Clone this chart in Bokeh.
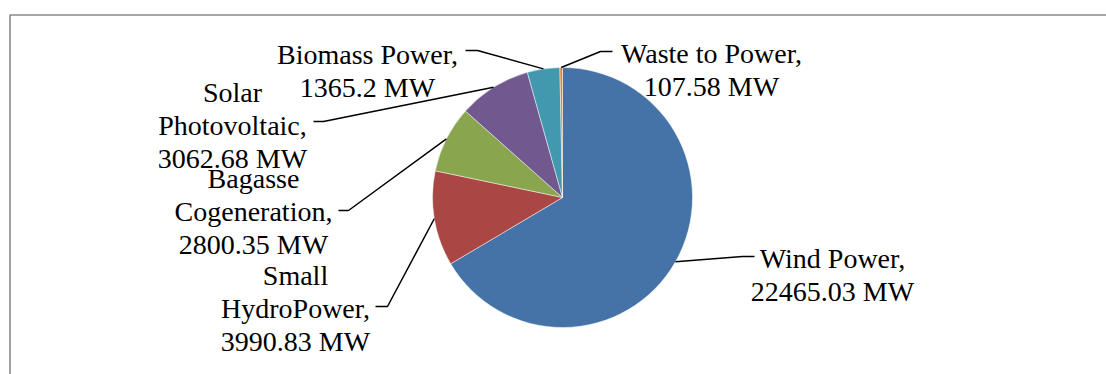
import math
from bokeh.plotting import figure
from bokeh.models import Range1d, ColumnDataSource
from bokeh.core.properties import value
from bokeh.embed import file_html
from bokeh.resources import INLINE

# ---- data ----
categories = ["Wind Power", "Small HydroPower", "Bagasse Cogeneration",
              "Solar Photovoltaic", "Biomass Power", "Waste to Power"]
capacity_mw = [22465.03, 3990.83, 2800.35, 3062.68, 1365.2, 107.58]
colors = ["#4572A7", "#AA4643", "#89A54E", "#71588F", "#4198AF", "#DB843D"]

# ---- layout (pixels from top-left) ----
W, H = 1106, 374
CX, CY, R = 562, 197, 130
FS = 28
LINE_H = 33
label_layout = [
    (832, 258, False),
    (295, 275, True),
    (253, 178, True),
    (232, 92, True),
    (367, 54, False),
    (711, 53, False),
]
leader_layout = [
    [(742, 256), (754, 256)],
    [(387, 306), (375, 306)],
    [(348, 210), (338, 210)],
    [(323, 121), (313, 121)],
    [(477, 50), (465, 50)],
    [(600, 51), (612, 51)],
]


def Y(ypx):
    return H - ypx


p = figure(width=W, height=H, x_range=Range1d(0, W), y_range=Range1d(0, H),
           min_border=0, toolbar_location=None, output_backend="svg",
           x_axis_type=None, y_axis_type=None)
p.outline_line_color = None

# labels (drawn first)
tx, ty, tt = [], [], []
for name, v, (lx, ly, split) in zip(categories, capacity_mw, label_layout):
    if split:
        first, rest = name.split(" ", 1)
        lines = [first, rest + ","]
    else:
        lines = [name + ","]
    lines.append(f"{v} MW")
    for i, s in enumerate(lines):
        tx.append(lx)
        ty.append(Y(ly + i * LINE_H))
        tt.append(s)
p.text(x=tx, y=ty, text=tt, text_font=value("Times New Roman"), text_font_size="28px",
       text_align="center", text_baseline="alphabetic", text_color="black")

# chart frame (left and top edges), kept inside the ranges
p.line([9.5, 9.5, W], [0, Y(14.5), Y(14.5)], line_color="#8a8a8a", line_width=1.6)

total = sum(capacity_mw)
cum = 0.0
starts, ends, mids = [], [], []
for v in capacity_mw:
    f0 = cum / total
    cum += v
    f1 = cum / total
    starts.append(math.pi / 2 - 2 * math.pi * f1)
    ends.append(math.pi / 2 - 2 * math.pi * f0)
    mids.append((f0 + f1) / 2)

src = ColumnDataSource(dict(x=[CX] * len(capacity_mw), y=[Y(CY)] * len(capacity_mw),
                            start=starts, end=ends, color=colors))
p.wedge(x="x", y="y", radius=R, start_angle="start", end_angle="end",
        direction="anticlock", fill_color="color", line_color="white",
        line_width=0.6, line_alpha=0.8, source=src)

# leader lines
lx_all, ly_all = [], []
for m, pts in zip(mids, leader_layout):
    a = 2 * math.pi * m
    px = CX + R * math.sin(a)
    py = CY - R * math.cos(a)
    lx_all.append([px] + [q[0] for q in pts])
    ly_all.append([Y(py)] + [Y(q[1]) for q in pts])
p.multi_line(lx_all, ly_all, line_color="black", line_width=1.5)

open("out.html", "w").write(file_html(p, INLINE))
